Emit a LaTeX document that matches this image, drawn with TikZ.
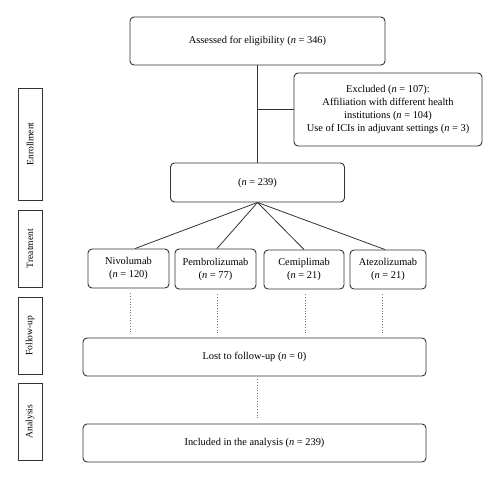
\documentclass[tikz,border=0pt]{standalone}
\usepackage{fontspec}
\setmainfont{Liberation Serif}
\begin{document}
\begin{tikzpicture}[x=1pt,y=-1pt,
  box/.style={draw=black!80, line width=0.9pt, rounded corners=4pt, align=center, inner sep=1pt,
    font=\fontsize{10.4}{13}\selectfont, text=black},
  side/.style={draw=black!80, line width=0.9pt, inner sep=0pt, minimum width=24pt,
    font=\fontsize{9.6}{11}\selectfont, text=black},
  conn/.style={draw=black!80, line width=0.8pt},
  dots/.style={draw=black!55, line width=0.7pt, dotted}]
\useasboundingbox (0,0) rectangle (500,480);
\node[box, minimum width=255pt, minimum height=48pt] (top) at (257.5,41) {Assessed for eligibility (\textit{n} = 346)};
\node[box, minimum width=188pt, minimum height=73pt] (excl) at (388,109.5) {Excluded (\textit{n} = 107):\\Affiliation with different health\\institutions (\textit{n} = 104)\\Use of ICIs in adjuvant settings (\textit{n} = 3)};
\node[box, minimum width=174pt, minimum height=39pt] (n239) at (257.5,182.5) {(\textit{n} = 239)};
\node[box, minimum width=81pt, minimum height=39pt] (niv) at (128.5,268.5) {Nivolumab\\(\textit{n} = 120)};
\node[box, minimum width=81pt, minimum height=40pt] (pem) at (215.5,269) {Pembrolizumab\\(\textit{n} = 77)};
\node[box, minimum width=80pt, minimum height=39pt] (cem) at (304,269.5) {Cemiplimab\\(\textit{n} = 21)};
\node[box, minimum width=76pt, minimum height=39pt] (ate) at (388,269.5) {Atezolizumab\\(\textit{n} = 21)};
\node[box, minimum width=343pt, minimum height=38pt] (lost) at (254.5,357) {Lost to follow-up (\textit{n} = 0)};
\node[box, minimum width=343pt, minimum height=38pt] (incl) at (254.5,443) {Included in the analysis (\textit{n} = 239)};
\node[side, minimum height=112pt] (enr) at (30,144) {\rotatebox{90}{Enrollment}};
\node[side, minimum height=77pt] (tre) at (30,248.5) {\rotatebox{90}{Treatment}};
\node[side, minimum height=77pt] (fol) at (30,335.5) {\rotatebox{90}{Follow-up}};
\node[side, minimum height=77pt] (ana) at (30,421.5) {\rotatebox{90}{Analysis}};
\coordinate (br) at (top.south |- excl.west);
\draw[conn] (top.south) -- (n239.north);
\draw[conn] (br) -- (excl.west);
\foreach \t/\dx in {niv/6.5,pem/1.5,cem/0,ate/-3} {
  \draw[conn] (n239.south) -- ([xshift=\dx pt]\t.north);
}
\foreach \t/\dx in {niv/1.5,pem/1.5,cem/1,ate/-6} {
  \draw[dots, shorten <=5pt, shorten >=4pt] ([xshift=\dx pt]\t.south) -- ([xshift=\dx pt]\t.south |- lost.north);
}
\draw[dots, shorten <=3pt, shorten >=6pt] (lost.south -| n239.south) -- (incl.north -| n239.south);
\end{tikzpicture}
\end{document}
